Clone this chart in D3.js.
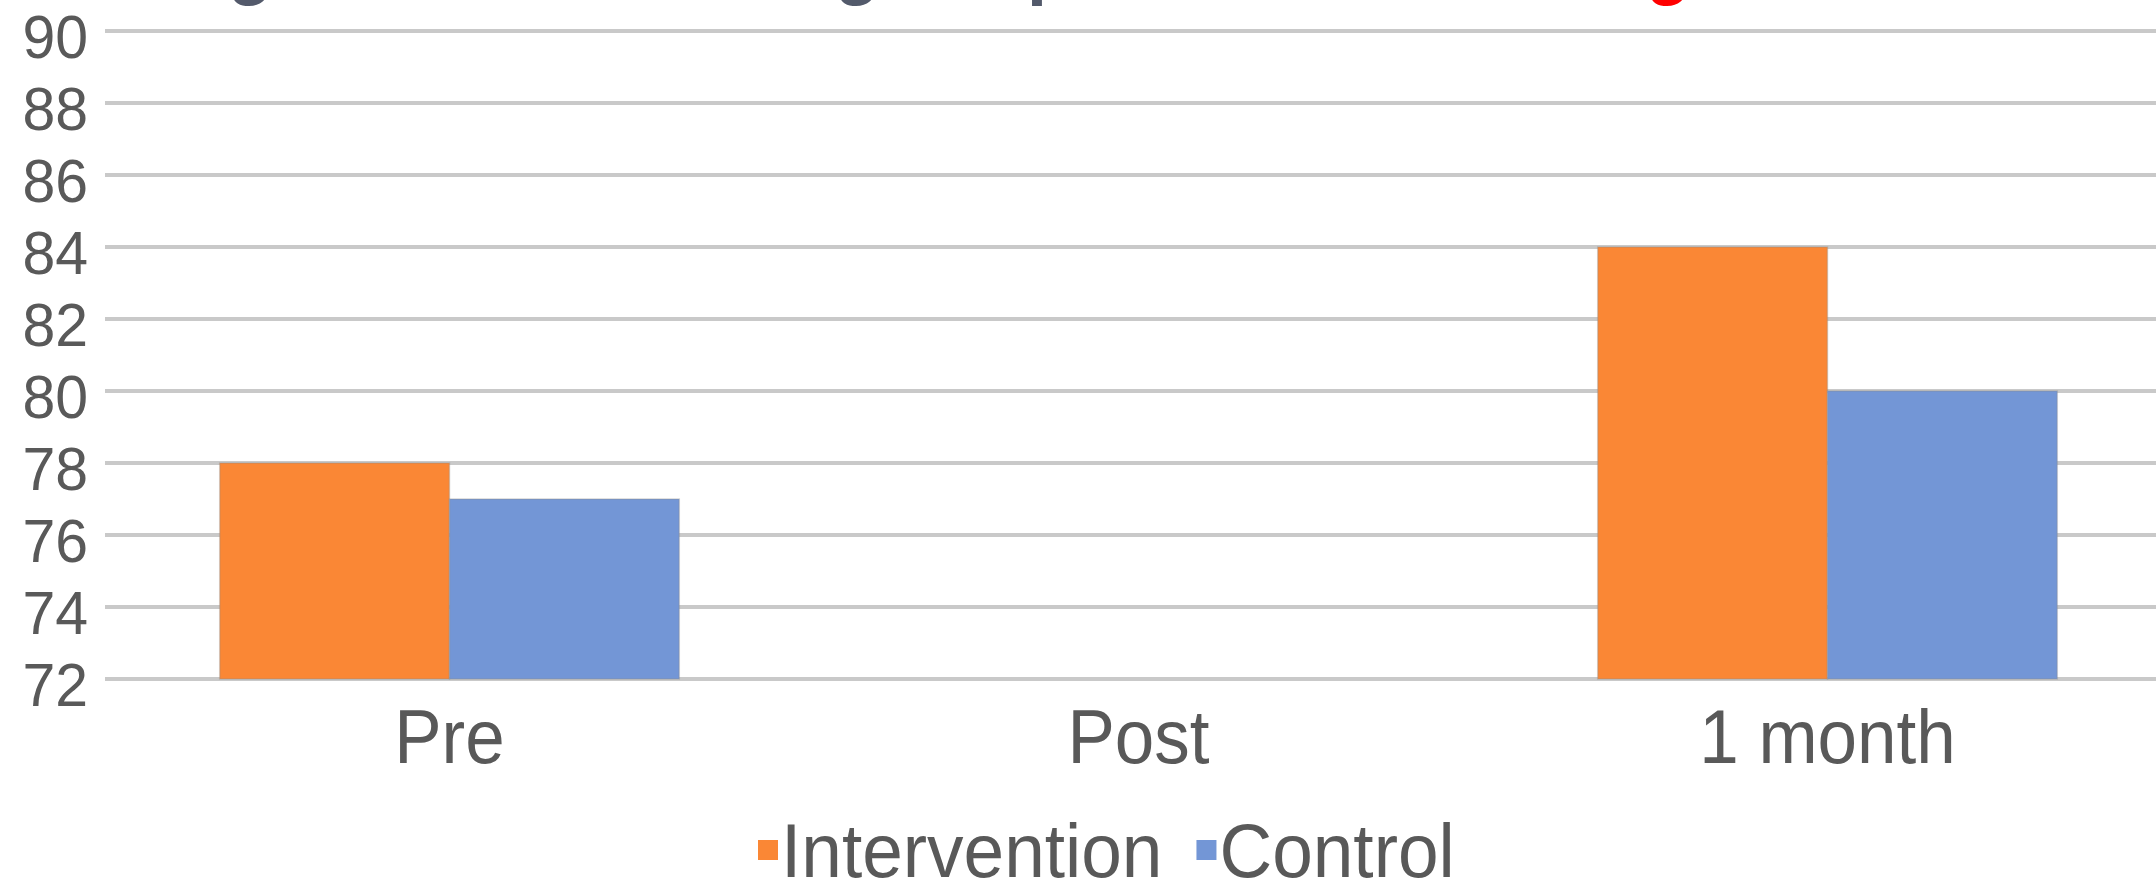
<!DOCTYPE html>
<html>
<head>
<meta charset="utf-8">
<script src="https://cdn.jsdelivr.net/npm/d3@7"></script>
<style>
  html, body { margin: 0; padding: 0; background: #ffffff; overflow: hidden; }
  svg { display: block; }
  text { font-family: "Liberation Sans", Arial, sans-serif; }
</style>
</head>
<body>
<svg id="chart" width="2156" height="881"></svg>
<script>
// ---- data ----
const categories = ["Pre", "Post", "1 month"];
const seriesNames = ["Intervention", "Control"];
const intervention = [78, null, 84];
const control = [77, null, 80];
const yTicks = [72, 74, 76, 78, 80, 82, 84, 86, 88, 90];
const seriesColors = ["#FA8735", "#7396D6"];

// ---- layout ----
const W = 2156, H = 881;
const plotLeft = 105, bandW = 689;
const svg = d3.select("#chart");

const x = d3.scaleBand().domain(categories).range([plotLeft, plotLeft + bandW * categories.length]).padding(0);
const groupW = bandW * 0.667;
const xs = d3.scaleBand().domain(seriesNames).range([0, groupW]).padding(0);
const y = d3.scaleLinear().domain([72, 90]).range([679, 31]);

const textColor = "#595959";

// partially visible title (cut off by the top edge of the picture, as in the reference)
const titleG = svg.append("g");
[["g", 250, "#535a6b"], ["g", 857, "#535a6b"], ["p", 1049, "#535a6b"], ["g", 1668, "#ff0000"]].forEach(([ch, cx, col]) => {
  titleG.append("text").attr("x", cx).attr("y", -9).attr("text-anchor", "middle")
    .attr("font-size", 72).attr("font-weight", "bold").attr("fill", col).text(ch);
});

// gridlines
gridG = svg.append("g");
gridG.selectAll("line.grid").data(yTicks).join("line")
  .attr("class", "grid")
  .attr("x1", plotLeft).attr("x2", W)
  .attr("y1", d => y(d)).attr("y2", d => y(d))
  .attr("stroke", "#c9c9c9").attr("stroke-width", 4);

// y tick labels via axis
const yAxis = d3.axisLeft(y).tickValues(yTicks).tickSize(0).tickPadding(0);
const axG = svg.append("g").attr("transform", `translate(88,0)`).call(yAxis);
axG.select(".domain").remove();
axG.selectAll("text")
  .attr("font-size", 59).attr("fill", textColor)
  .attr("font-family", "'Liberation Sans', Arial, sans-serif")
  .attr("dy", null).attr("x", 0).attr("y", 0).attr("dominant-baseline", "auto")
  .attr("transform", "translate(0,26) scale(1,1.05)");

// bars
const rows = categories.map((c, i) => ({ cat: c, vals: [intervention[i], control[i]] }));
const groups = svg.append("g").selectAll("g").data(rows).join("g")
  .attr("transform", d => `translate(${x(d.cat) + (bandW - groupW) / 2},0)`);
groups.selectAll("rect").data(d => d.vals.map((v, j) => ({ s: seriesNames[j], v, j })).filter(e => e.v != null))
  .join("rect")
  .attr("x", e => xs(e.s))
  .attr("width", xs.bandwidth())
  .attr("y", e => y(e.v))
  .attr("height", e => y(72) - y(e.v))
  .attr("fill", e => seriesColors[e.j])
  .attr("stroke", "rgba(140,140,140,0.35)").attr("stroke-width", 1.5);

// category labels
const xAxis = d3.axisBottom(x).tickSize(0).tickPadding(0);
const xg = svg.append("g").attr("transform", `translate(0,763)`).call(xAxis);
xg.select(".domain").remove();
xg.selectAll("text")
  .attr("font-size", 71).attr("fill", textColor)
  .attr("font-family", "'Liberation Sans', Arial, sans-serif")
  .attr("dy", null).attr("y", 0).attr("dominant-baseline", "auto")
  .attr("transform", "scale(1,1.08)");

// legend
const leg = svg.append("g");
let lx = 758;
seriesNames.forEach((name, i) => {
  leg.append("rect").attr("x", lx).attr("y", 840).attr("width", 20).attr("height", 20).attr("fill", seriesColors[i]);
  const t = leg.append("text")
    .attr("transform", `translate(${lx + 23},877) scale(1,1.04)`)
    .attr("font-size", 73).attr("fill", textColor).text(name);
  const len = t.node().getComputedTextLength();
  lx = lx + 23 + len + 34;
});
</script>
</body>
</html>
